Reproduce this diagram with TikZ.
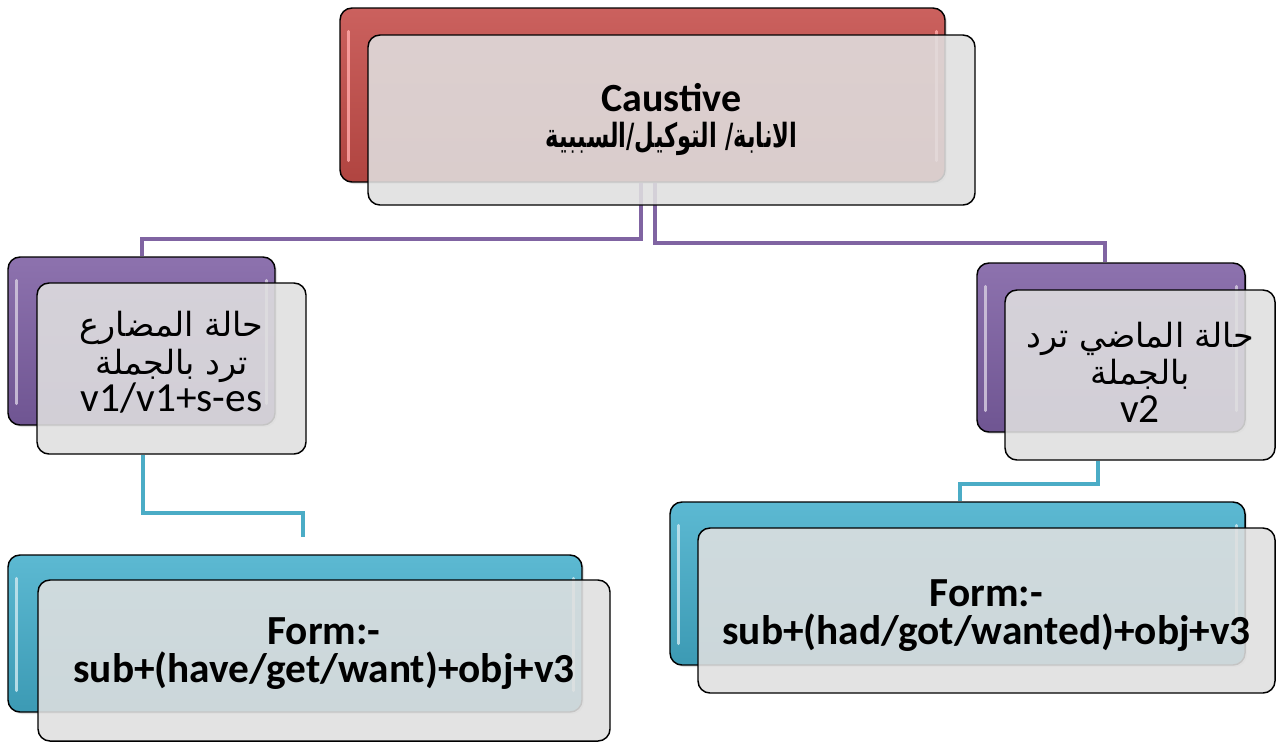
\documentclass[tikz,border=0pt]{standalone}
\usepackage{fontspec}
\setmainfont{Carlito}
\newfontfamily\arabicfont[Script=Arabic]{DejaVu Sans}
\TeXXeTstate=1
\usetikzlibrary{calc,shadows}
\definecolor{cred}{HTML}{C0504D}
\definecolor{credtop}{HTML}{CB615E}
\definecolor{credbot}{HTML}{B04440}
\definecolor{cpur}{HTML}{8064A2}
\definecolor{cpurtop}{HTML}{8D72AE}
\definecolor{cpurbot}{HTML}{6F5592}
\definecolor{cteal}{HTML}{4BACC6}
\definecolor{ctealtop}{HTML}{5CB9D2}
\definecolor{ctealbot}{HTML}{3C9AB4}
\definecolor{cfront}{HTML}{E0E0E0}
\begin{document}
\begin{tikzpicture}[x=0.75pt,y=-0.75pt,
  backbox/.style={draw=black, line width=1.1pt, rounded corners=9pt, inner sep=0pt,
    drop shadow={opacity=0.25, shadow xshift=1.5pt, shadow yshift=-1.5pt}},
  redbox/.style={backbox, top color=credtop, bottom color=credbot},
  purbox/.style={backbox, top color=cpurtop, bottom color=cpurbot},
  tealbox/.style={backbox, top color=ctealtop, bottom color=ctealbot},
  frontbox/.style={draw=black, line width=1.1pt, rounded corners=9pt, fill=cfront,
    fill opacity=0.88, draw opacity=1, inner sep=0pt},
  hilite/.style={line width=2.2pt, line cap=round, opacity=0.85},
  pline/.style={draw=cpur, line width=3pt},
  tline/.style={draw=cteal, line width=3pt},
  txt/.style={align=center, inner sep=0pt, text=black},
]
\useasboundingbox[fill=white] (0,0) rectangle (1281,744);

% ---- back boxes
\node[redbox, minimum width=453.75pt, minimum height=130.5pt] (tb) at (642.5,95) {};
\node[purbox, minimum width=200.25pt, minimum height=126pt] (lb) at (141.5,341) {};
\node[purbox, minimum width=201pt, minimum height=126.75pt] (rb) at (1111,347.5) {};
\node[tealbox, minimum width=430.5pt, minimum height=117.75pt] (blb) at (295,633.5) {};
\node[tealbox, minimum width=431.25pt, minimum height=122.25pt] (brb) at (957.5,583.5) {};

% ---- highlights
\foreach \b/\c in {tb/red!35!white, lb/cpur!35!white, rb/cpur!35!white, blb/cteal!30!white, brb/cteal!30!white}{
  \draw[hilite, draw=\c] ($(\b.north west)+(9,24)$) -- ($(\b.south west)+(9,-22)$);
  \draw[hilite, draw=\c] ($(\b.north east)+(-9,24)$) -- ($(\b.south east)+(-9,-22)$);
}

% ---- connectors
\coordinate (e1) at (303,537);
\draw[pline] ([xshift=-1.5pt]tb.south) -- ++(0,56) -| (lb.north);
\draw[pline] ([xshift=9pt]tb.south) -- ++(0,60) -| ([xshift=-4.5pt]rb.north);
\draw[tline] ($(lb.south)+(1.5,29)$) -- ++(0,58) -| (e1);
\draw[tline] ($(rb.south)+(-13,28)$) -- ++(0,23) -| ([xshift=2pt]brb.north);

% ---- front boxes
\node[frontbox, minimum width=455.25pt, minimum height=127.5pt] (tf) at (671.5,120) {};
\node[frontbox, minimum width=201.75pt, minimum height=128.25pt] (lf) at (171.5,368.5) {};
\node[frontbox, minimum width=202.5pt, minimum height=127.5pt] (rf) at (1140,375) {};
\node[frontbox, minimum width=429pt, minimum height=120.75pt] (blf) at (324,660.5) {};
\node[frontbox, minimum width=432.75pt, minimum height=123.75pt] (brf) at (986.5,610.5) {};

% ---- texts
\node[txt, font=\fontsize{30}{27}\selectfont\bfseries] (tt) at ($(tf.center)+(0,-1)$)
  {Caustive\\\scalebox{0.68}[1]{\arabicfont\bfseries\fontsize{25}{27}\selectfont\beginR الانابة/ التوكيل/السببية\endR}};
\node[txt, font=\fontsize{31}{28}\selectfont] (lt) at ($(lf.center)+(0,-6)$)
  {{\arabicfont\fontsize{25}{28}\selectfont\beginR حالة المضارع\endR}\\
   {\arabicfont\fontsize{25}{28}\selectfont\beginR ترد بالجملة\endR}\\
   v1/v1+s-es};
\node[txt, font=\fontsize{31}{28}\selectfont] (rt) at ($(rf.center)+(0,-3)$)
  {{\arabicfont\fontsize{25}{28}\selectfont\beginR حالة الماضي ترد\endR}\\
   {\arabicfont\fontsize{25}{28}\selectfont\beginR بالجملة\endR}\\
   v2};
\node[txt, font=\fontsize{31}{28}\selectfont\bfseries] (blt) at ($(blf.center)+(0,-7)$)
  {Form:-\\sub+(have/get/want)+obj+v3};
\node[txt, font=\fontsize{31}{28}\selectfont\bfseries] (brt) at ($(brf.center)+(0,5)$)
  {Form:-\\sub+(had/got/wanted)+obj+v3};
\end{tikzpicture}
\end{document}
